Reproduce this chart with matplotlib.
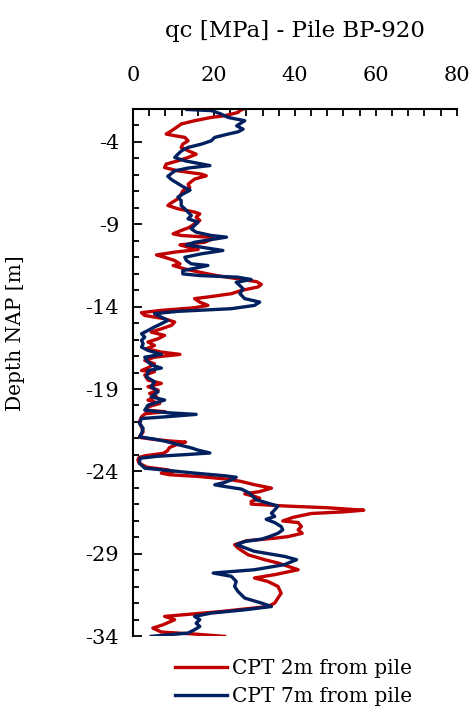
import matplotlib
matplotlib.use("Agg")
import matplotlib.pyplot as plt
from matplotlib.ticker import MultipleLocator, FixedLocator

plt.rcParams['font.family'] = ['DejaVu Serif']

# CPT 2m from pile (red): depth [m NAP], qc [MPa]
depth_2m = [-2.0, -2.1, -2.23, -2.43, -2.53, -2.73, -2.93, -3.14, -3.34, -3.54, -3.64, -3.74,
            -3.95, -4.15, -4.35, -4.55, -4.76, -4.96, -5.16, -5.36, -5.57, -5.77, -5.97, -6.07,
            -6.27, -6.58, -6.78, -6.98, -7.18, -7.46, -7.77, -7.87, -8.07, -8.27, -8.38, -8.58,
            -8.78, -8.98, -9.19, -9.39, -9.59, -9.69, -9.79, -9.89, -10.1, -10.26, -10.4, -10.54,
            -10.7, -10.87, -11.01, -11.21, -11.41, -11.51, -11.72, -11.92, -12.02, -12.12, -12.32,
            -12.49, -12.65, -12.81, -13.02, -13.22, -13.42, -13.52, -13.73, -13.93, -14.07, -14.23,
            -14.37, -14.54, -14.74, -14.94, -15.14, -15.35, -15.55, -15.75, -15.95, -16.15, -16.36,
            -16.56, -16.76, -16.9, -17.07, -17.27, -17.47, -17.71, -17.88, -17.95, -18.15, -18.46,
            -18.66, -18.86, -19.07, -19.27, -19.47, -19.67, -19.88, -20.08, -20.28, -20.38, -20.5,
            -20.69, -20.99, -21.29, -21.6, -21.9, -21.95, -22.05, -22.15, -22.22, -22.35, -22.55,
            -22.75, -22.9, -23.05, -23.15, -23.3, -23.5, -23.74, -23.9, -24.0, -24.1, -24.2, -24.3,
            -24.47, -24.61, -24.81, -24.95, -25.01, -25.22, -25.36, -25.52, -25.62, -25.82, -25.98,
            -26.1, -26.2, -26.35, -26.45, -26.55, -26.78, -27.0, -27.1, -27.34, -27.54, -27.75,
            -27.95, -28.05, -28.2, -28.44, -28.64, -29.05, -29.35, -29.55, -29.96, -30.26, -30.46,
            -30.67, -30.97, -31.38, -31.98, -32.19, -32.49, -32.79, -32.99, -33.3, -33.5, -33.74,
            -33.86, -34.0]
qc_2m = [27.5, 26.5, 25.9, 22.6, 19.3, 15.2, 11.9, 10.7, 9.5, 8.2, 10.3, 12.8,
         13.6, 12.3, 11.9, 13.6, 15.6, 13.6, 11.1, 8.2, 7.8, 11.1, 16.9, 18.1,
         15.2, 13.6, 14.0, 12.3, 11.9, 11.1, 9.1, 8.6, 11.1, 15.2, 16.5, 15.6,
         16.5, 15.2, 14.0, 11.9, 9.9, 11.9, 18.5, 19.7, 17.7, 11.6, 13.6, 16.1,
         10.3, 5.8, 7.8, 10.3, 11.6, 9.9, 12.8, 16.5, 18.5, 20.6, 25.9,
         30.5, 31.7, 30.9, 26.8, 24.3, 18.5, 15.2, 16.5, 18.5, 15.2, 7.0,
         2.1, 2.9, 7.8, 10.3, 9.5, 7.0, 4.5, 7.8, 6.2, 3.7, 5.3,
         3.3, 7.0, 11.6, 5.3, 2.9, 5.3, 3.7, 2.1, 5.3, 2.9, 3.7,
         7.0, 3.7, 6.2, 4.1, 5.8, 3.7, 6.6, 3.7, 3.3, 8.0, 3.0,
         2.1, 1.6, 2.1, 2.5, 1.6, 2.0, 5.0, 9.0, 13.0, 11.0, 9.0,
         8.5, 7.5, 3.0, 1.5, 1.2, 1.5, 3.4, 8.5, 10.0, 7.0, 9.0, 16.0,
         23.5, 26.8, 30.1, 33.0, 34.2, 31.3, 27.6, 30.1, 31.3, 29.2, 29.2,
         38.0, 48.0, 57.0, 52.0, 44.0, 39.6, 37.0, 40.8, 41.6, 40.8, 41.8,
         38.3, 35.0, 28.1, 25.1, 25.9, 28.4, 32.5, 35.8, 40.8, 35.0, 30.0,
         33.3, 35.8, 36.6, 35.0, 33.3, 21.9, 7.8, 10.3, 7.4, 4.9, 7.0,
         15.2, 22.6]

# CPT 7m from pile (blue)
depth_7m = [-2.05, -2.12, -2.33, -2.53, -2.73, -2.9, -3.04, -3.24, -3.4, -3.54, -3.74, -3.95,
            -4.15, -4.35, -4.55, -4.76, -4.96, -5.16, -5.45, -5.6, -5.77, -6.1, -6.3, -6.74,
            -6.94, -7.15, -7.36, -7.57, -7.87, -8.17, -8.48, -8.68, -8.88, -9.08, -9.29, -9.49,
            -9.69, -9.79, -9.89, -10.1, -10.26, -10.46, -10.6, -10.8, -11.01, -11.21, -11.41,
            -11.51, -11.68, -11.82, -12.02, -12.12, -12.22, -12.36, -12.53, -12.61, -12.92, -13.22,
            -13.52, -13.73, -13.93, -14.13, -14.29, -14.43, -14.64, -14.84, -15.04, -15.24, -15.45,
            -15.65, -15.85, -16.05, -16.26, -16.46, -16.66, -16.9, -17.07, -17.37, -17.57, -17.73,
            -17.88, -18.0, -18.26, -18.56, -18.86, -19.17, -19.47, -19.67, -19.98, -20.28, -20.44,
            -20.54, -20.69, -20.79, -21.09, -21.39, -21.7, -21.9, -22.04, -22.16, -22.37, -22.57,
            -22.71, -22.88, -22.97, -23.08, -23.2, -23.5, -23.8, -23.94, -24.1, -24.26, -24.35,
            -24.51, -24.67, -24.81, -24.91, -25.07, -25.32, -25.52, -25.72, -25.92, -26.1, -26.33,
            -26.53, -26.73, -26.9, -27.1, -27.34, -27.54, -27.75, -27.95, -28.11, -28.25, -28.44,
            -28.84, -29.15, -29.35, -29.65, -29.96, -30.16, -30.36, -30.67, -30.97, -31.27, -31.68,
            -31.98, -32.19, -32.39, -32.59, -32.79, -32.99, -33.2, -33.4, -33.6, -33.8, -34.0]
qc_7m = [13.3, 19.5, 21.8, 23.5, 27.6, 26.5, 25.6, 27.2, 26.0, 23.5, 20.2, 19.3,
         16.9, 13.6, 12.0, 11.1, 10.3, 12.8, 19.0, 13.6, 10.3, 8.6, 9.5, 12.4,
         14.1, 12.5, 11.1, 11.9, 11.9, 13.2, 14.4, 13.6, 16.1, 15.2, 14.4, 15.6,
         19.3, 23.1, 20.6, 15.2, 13.2, 18.5, 22.2, 16.9, 12.8, 13.2, 14.4,
         18.5, 15.2, 12.3, 12.3, 16.5, 25.9, 29.2, 25.5, 25.9, 27.2, 26.4,
         27.6, 31.3, 30.0, 24.3, 11.1, 5.3, 7.0, 8.6, 7.0, 5.3, 3.7,
         2.1, 2.9, 2.1, 2.5, 2.1, 3.7, 7.0, 2.9, 3.7, 4.9, 7.0,
         3.7, 3.7, 3.3, 5.3, 4.5, 6.2, 4.5, 7.8, 3.7, 2.9, 8.6,
         15.6, 7.8, 2.1, 1.6, 2.5, 2.1, 1.6, 5.3, 7.8, 11.1, 14.4,
         16.1, 19.0, 13.6, 6.0, 1.7, 1.6, 2.9, 8.6, 15.2, 22.6, 25.5,
         24.3, 22.6, 20.2, 22.6, 26.8, 28.8, 29.6, 30.5, 33.3, 35.8, 35.0,
         34.2, 35.0, 32.9, 35.0, 36.6, 37.0, 35.8, 33.7, 31.7, 27.6, 25.6,
         29.9, 37.4, 40.4, 37.4, 30.0, 19.8, 24.3, 25.5, 25.1, 25.9, 27.6,
         31.7, 34.2, 27.6, 19.3, 15.2, 16.5, 15.6, 16.5, 15.2, 13.6, 4.5]

series_labels = ["CPT 2m from pile", "CPT 7m from pile"]
series_colors = ["#C00000", "#002060"]

x_title = "qc [MPa] - Pile BP-920"
y_title = "Depth NAP [m]"
x_ticks = [0, 20, 40, 60, 80]
y_ticks = [-4, -9, -14, -19, -24, -29, -34]

fig = plt.figure(figsize=(4.70, 7.15), dpi=100)
ax = fig.add_axes([0.283, 0.110, 0.689, 0.738])

ax.plot(qc_2m, depth_2m, color=series_colors[0], lw=2.4, label=series_labels[0],
        solid_joinstyle='round')
ax.plot(qc_7m, depth_7m, color=series_colors[1], lw=2.4, label=series_labels[1],
        solid_joinstyle='round')

ax.set_xlim(0, 80)
ax.set_ylim(-34, -2)
ax.xaxis.tick_top()
ax.xaxis.set_label_position('top')
ax.xaxis.set_major_locator(FixedLocator(x_ticks))
ax.xaxis.set_minor_locator(MultipleLocator(4))
ax.yaxis.set_major_locator(FixedLocator(y_ticks))
ax.yaxis.set_minor_locator(MultipleLocator(1))
ax.set_yticklabels([str(v) for v in y_ticks])

for s in ['right', 'bottom']:
    ax.spines[s].set_visible(False)
for s in ['left', 'top']:
    ax.spines[s].set_linewidth(1.5)

ax.tick_params(axis='x', which='major', direction='in', length=5, width=1.3,
               labelsize=15, pad=17, top=True, bottom=False)
ax.tick_params(axis='x', which='minor', direction='in', length=5, width=1.3, top=True, bottom=False)
ax.tick_params(axis='y', which='major', direction='in', length=6.5, width=1.3,
               labelsize=15, pad=10)
ax.tick_params(axis='y', which='minor', direction='in', length=4.5, width=1.3)

ax.set_xlabel(x_title, fontsize=16.5, labelpad=21)
ax.set_ylabel(y_title, fontsize=14.5)
ax.yaxis.set_label_coords(-0.335, 0.575)

leg = fig.legend(loc='upper left', bbox_to_anchor=(0.372, 0.078), frameon=False,
                 fontsize=14.5, handlelength=2.6, handletextpad=0.25, labelspacing=0.45,
                 borderpad=0, borderaxespad=0)

fig.savefig("out.png", dpi=100)
